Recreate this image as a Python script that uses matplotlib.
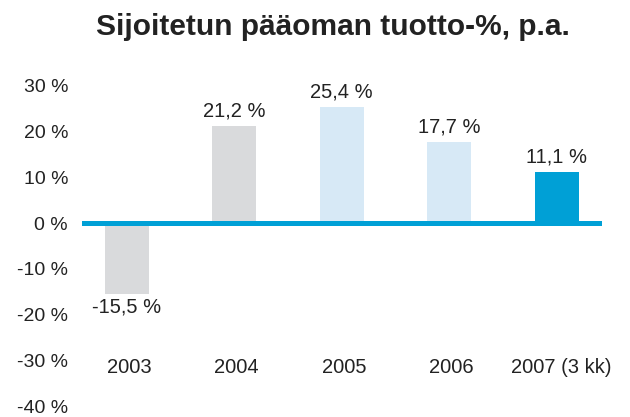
import matplotlib.pyplot as plt

plt.rcParams['font.family'] = ['Liberation Sans', 'DejaVu Sans']

years = ['2003', '2004', '2005', '2006', '2007 (3 kk)']
values = [-15.5, 21.2, 25.4, 17.7, 11.1]
labels = ['-15,5 %', '21,2 %', '25,4 %', '17,7 %', '11,1 %']
colors = ['#D9DADC', '#D9DADC', '#D7E9F6', '#D7E9F6', '#00A0D6']
yticks = [30, 20, 10, 0, -10, -20, -30, -40]

fig = plt.figure(figsize=(6.3, 4.17), dpi=100)
ax = fig.add_axes([0.130, 0.026, 0.825, 0.768])

x = range(len(years))
ax.bar(x, values, width=0.41, color=colors, zorder=2)
ax.axhline(0, color='#00A0D6', linewidth=3.6, zorder=3)

for i, (v, lab) in enumerate(zip(values, labels)):
    if v >= 0:
        ax.text(i, v + 1.2, lab, ha='center', va='bottom', fontsize=14.5, color='#222222')
    else:
        ax.text(i, v - 0.8, lab, ha='center', va='top', fontsize=14.5, color='#222222')
    ax.text(i + (0.04 if i == 4 else 0.02), -31.5, years[i], ha='center', va='center',
            fontsize=14.5, color='#222222')

ax.set_xlim(-0.42, 4.42)
ax.set_ylim(-40, 30)
ax.set_yticks(yticks)
ax.set_yticklabels([f'{t} %' for t in yticks], fontsize=14, color='#222222')
ax.tick_params(axis='y', length=0, pad=10)
ax.set_xticks([])
for s in ax.spines.values():
    s.set_visible(False)

fig.text(0.528, 0.935, 'Sijoitetun pääoman tuotto-%, p.a.', ha='center', va='center',
         fontsize=21.5, fontweight='bold', color='#222222')

fig.savefig('out.png', dpi=100, facecolor='white')
